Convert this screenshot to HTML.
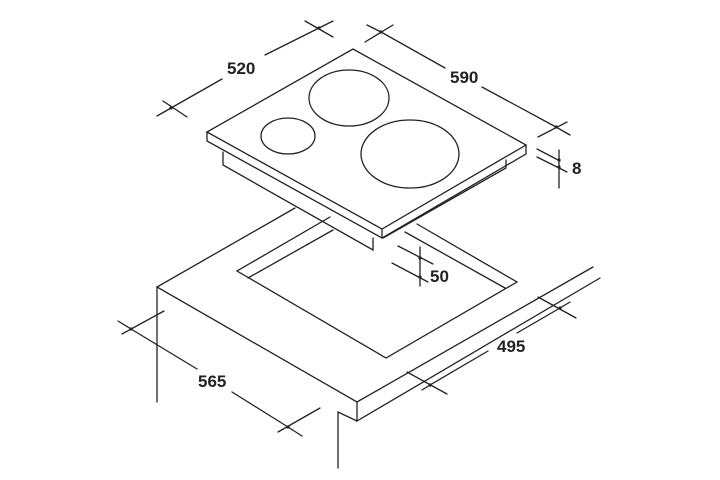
<!DOCTYPE html>
<html><head><meta charset="utf-8"><style>
html,body{margin:0;padding:0;background:#fff;}
svg{display:block}
text{font-family:"Liberation Sans",Arial,sans-serif;font-weight:bold;font-size:17px;fill:#222}
</style></head><body>
<svg width="720" height="480" viewBox="0 0 720 480" xmlns="http://www.w3.org/2000/svg">
<g stroke="#222" stroke-width="1.3" fill="none" stroke-linecap="round">
<!-- countertop -->
<polyline points="295,208 157,287 357,402 593,267"/>
<polyline points="157,287 157,402"/>
<polyline points="357,402 357,421 600,278"/>
<polyline points="338,468 338,412 357,421"/>
<!-- cutout -->
<polyline points="330,217 237,271 386,358 517,282 417,224"/>
<polyline points="333,230 248,278"/>
<polyline points="405,232 505,288"/>
<!-- hob underbody -->
<polyline points="223,152 223,165 373,250 373,238"/>
<polyline points="506,160 506,168 383,238"/>
<!-- hob top -->
<polygon points="207,132 353,49 526,145 382,229" fill="#fff"/>
<polyline points="207,132 207,141 382,238 526,154 526,145"/>
<line x1="382" y1="229" x2="382" y2="238"/>
<ellipse cx="288" cy="136" rx="27" ry="18"/>
<ellipse cx="349" cy="98" rx="40" ry="28"/>
<ellipse cx="410" cy="154" rx="49" ry="34"/>
<!-- dim 520 -->
<line x1="171" y1="108" x2="222" y2="79"/>
<line x1="265" y1="55" x2="319" y2="28"/>
<line x1="157" y1="116" x2="171" y2="108"/>
<line x1="163" y1="101" x2="187" y2="117"/>
<line x1="319" y1="28" x2="333" y2="21"/>
<line x1="305" y1="21" x2="333" y2="37"/>
<!-- dim 590 -->
<line x1="381" y1="32" x2="445" y2="68"/>
<line x1="482" y1="87" x2="556" y2="127"/>
<line x1="367" y1="25" x2="381" y2="32"/>
<line x1="365" y1="42" x2="393" y2="25"/>
<line x1="556" y1="127" x2="570" y2="135"/>
<line x1="538" y1="137" x2="567" y2="122"/>
<!-- dim 8 -->
<line x1="537" y1="149" x2="560" y2="161"/>
<line x1="537" y1="157" x2="567" y2="172"/>
<line x1="559" y1="150" x2="559" y2="188"/>
<!-- dim 50 -->
<line x1="398" y1="246" x2="433" y2="264"/>
<line x1="392" y1="263" x2="428" y2="282"/>
<line x1="420" y1="247" x2="420" y2="286"/>
<!-- dim 565 -->
<line x1="131" y1="329" x2="197" y2="369"/>
<line x1="232" y1="392" x2="288" y2="427"/>
<line x1="118" y1="321" x2="131" y2="329"/>
<line x1="122" y1="334" x2="164" y2="311"/>
<line x1="288" y1="427" x2="302" y2="436"/>
<line x1="278" y1="432" x2="320" y2="408"/>
<!-- dim 495 -->
<line x1="430" y1="385" x2="488" y2="351"/>
<line x1="517" y1="333" x2="560" y2="308"/>
<line x1="422" y1="390" x2="430" y2="385"/>
<line x1="407" y1="372" x2="447" y2="394"/>
<line x1="560" y1="308" x2="570" y2="302"/>
<line x1="538" y1="297" x2="576" y2="318"/>
</g>
<g fill="#222">
<circle cx="171" cy="108" r="1.6"/><circle cx="319" cy="28" r="1.6"/>
<circle cx="381" cy="32" r="1.6"/><circle cx="556" cy="127" r="1.6"/>
<circle cx="559" cy="160" r="1.6"/><circle cx="559" cy="167" r="1.6"/>
<circle cx="420" cy="258" r="1.6"/><circle cx="420" cy="277" r="1.6"/>
<circle cx="131" cy="329" r="1.6"/><circle cx="288" cy="427" r="1.6"/>
<circle cx="430" cy="385" r="1.6"/><circle cx="560" cy="308" r="1.6"/>
</g>
<text x="227" y="74">520</text>
<text x="450" y="83">590</text>
<text x="572" y="174">8</text>
<text x="430" y="282">50</text>
<text x="198" y="387">565</text>
<text x="497" y="352">495</text>
</svg>
</body></html>
